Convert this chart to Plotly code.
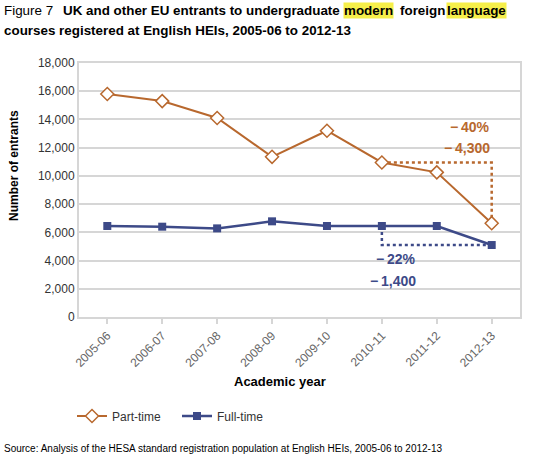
import plotly.graph_objects as go

years = ["2005-06", "2006-07", "2007-08", "2008-09", "2009-10",
         "2010-11", "2011-12", "2012-13"]
part_time = [15800, 15300, 14100, 11350, 13200, 10950, 10250, 6650]
full_time = [6450, 6400, 6280, 6780, 6450, 6450, 6450, 5100]
yticks = [0, 2000, 4000, 6000, 8000, 10000, 12000, 14000, 16000, 18000]

orange = "#B8682E"
navy = "#3D4A88"
grey = "#d6d6d6"
yellow = "#f6ef4a"

# plot area in window pixels
L, R, T, B = 79, 520, 63, 317
W, H = 535, 461


def px(x):
    return (x - L) / (R - L)


def py(y):
    return (B - y) / (B - T)


fig = go.Figure()

# dotted change guides
fig.add_trace(go.Scatter(
    x=[years[5], years[7], years[7]],
    y=[part_time[5], part_time[5], part_time[7]],
    mode="lines", line=dict(color=orange, width=2.5, dash="dot"),
    showlegend=False, hoverinfo="skip"))
fig.add_trace(go.Scatter(
    x=[years[5], years[5], years[7]],
    y=[full_time[5], full_time[7], full_time[7]],
    mode="lines", line=dict(color=navy, width=2.5, dash="dot"),
    showlegend=False, hoverinfo="skip"))

fig.add_trace(go.Scatter(
    x=years, y=part_time, name="Part-time", mode="lines+markers",
    line=dict(color=orange, width=2),
    marker=dict(symbol="diamond", size=10, color="white",
                line=dict(color=orange, width=1.5))))
fig.add_trace(go.Scatter(
    x=years, y=full_time, name="Full-time", mode="lines+markers",
    line=dict(color=navy, width=2.5),
    marker=dict(symbol="square", size=8, color=navy)))

font = "Liberation Sans, Arial, Helvetica, sans-serif"

ann = []


def note(x, y, text, color, xanchor="right", size=14, **kw):
    ann.append(dict(x=x, y=y, text=text, xanchor=xanchor, yanchor="middle",
                    showarrow=False, font=dict(size=size, color=color), **kw))


# change labels
note(7, 13450, "<b>\u2212\u200940%</b>", orange, xref="x", yref="y")
note(7, 11950, "<b>\u2212\u20094,300</b>", orange, xref="x", yref="y")
note(5.66, 4100, "<b>\u2212\u200922%</b>", navy, xref="x", yref="y")
note(5.66, 2550, "<b>\u2212\u20091,400</b>", navy, xref="x", yref="y")

# title, line 1 in pieces so the highlighted words sit where they should
title1 = [(2, "Figure 7", False),
          (61, "<b>UK and other EU entrants to undergraduate</b>", False),
          (343, "<b>modern</b>", True),
          (398, "<b>foreign</b>", False),
          (446, "<b>language</b>", True)]
for x, text, hl in title1:
    kw = dict(bgcolor=yellow, borderpad=0) if hl else {}
    note(px(x), py(11), text, "black", xanchor="left", size=13.4,
         xref="paper", yref="paper", **kw)
note(px(2), py(30), "<b>courses registered at English HEIs, 2005-06 to 2012-13</b>",
     "black", xanchor="left", size=13.4, xref="paper", yref="paper")

# axis titles
note(px(14), py(166), "<b>Number of entrants</b>", "black", xanchor="center",
     size=12, xref="paper", yref="paper", textangle=-90)
note(px(280), py(381), "<b>Academic year</b>", "black", xanchor="center",
     size=13, xref="paper", yref="paper")

# source
note(px(2), py(448),
     "Source: Analysis of the HESA standard registration population at English HEIs, 2005-06 to 2012-13",
     "black", xanchor="left", size=10, xref="paper", yref="paper")

fig.update_layout(
    width=W, height=H,
    margin=dict(l=L, r=W - R, t=T, b=H - B),
    paper_bgcolor="white", plot_bgcolor="white",
    font=dict(family=font, size=12, color="#333"),
    annotations=ann,
    showlegend=True,
    legend=dict(orientation="h", x=px(72), y=py(416), xanchor="left",
                yanchor="middle", font=dict(size=12, color="#333"),
                itemwidth=30, entrywidth=60, entrywidthmode="pixels",
                bgcolor="rgba(0,0,0,0)"),
    xaxis=dict(type="category", categoryorder="array", categoryarray=years,
               tickangle=-45, showgrid=False, showline=True, linecolor=grey,
               linewidth=2, mirror=True, ticks="outside", ticklen=5,
               tickcolor=grey, tickwidth=2,
               tickfont=dict(size=12, color="#666")),
    yaxis=dict(range=[0, 18000], tickvals=yticks, tickformat=",d",
               showgrid=True, gridcolor=grey, gridwidth=2, zeroline=False,
               showline=True, linecolor=grey, linewidth=2, mirror=True,
               ticks="", tickfont=dict(size=12, color="#333")),
)

# drop the default page margin so the figure fills the window
fig.write_html("out.html", config={"displayModeBar": False},
               post_script="document.body.style.margin='0px';")
